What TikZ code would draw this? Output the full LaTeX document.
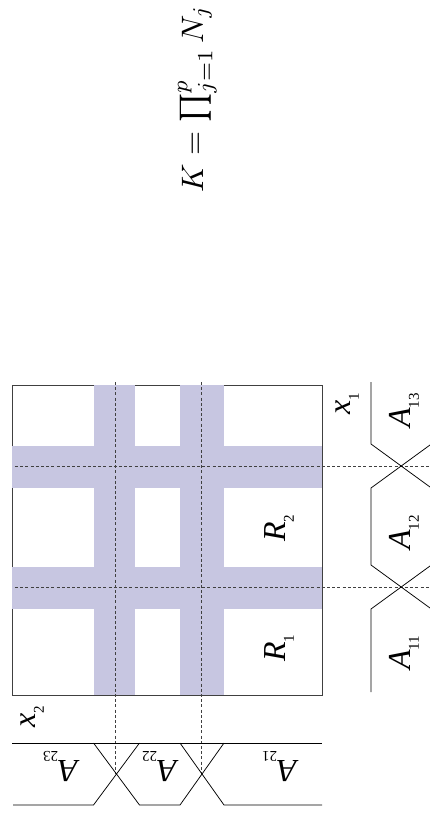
\documentclass[tikz,border=0pt]{standalone}
\usepackage{fontspec}
\setmainfont{Liberation Serif}
\definecolor{bandc}{RGB}{199,198,225}
\newcommand{\lblsub}[2]{\textit{#1}\raisebox{-0.28em}{\fontsize{15}{16}\selectfont #2}}
\begin{document}
\begin{tikzpicture}[x=1pt,y=-1pt,
  band/.style={fill=bandc, draw=none},
  frame/.style={draw=black!75, line width=0.7pt},
  gridline/.style={draw=black!75, line width=0.7pt, dash pattern=on 3pt off 2.2pt},
  mf/.style={draw=black, line width=0.75pt},
  lab/.style={inner sep=0pt, font=\fontsize{32}{38}\selectfont},
  formula/.style={inner sep=0pt, font=\fontsize{10}{12}\selectfont, scale=3.1, transform shape},
]
\useasboundingbox (0,0) rectangle (430,823);
\fill[white] (0,0) rectangle (430,823);

% formula
\node[formula, rotate=90, anchor=base west] (K) at (203,193) {$K = \prod_{j=1}^{p} N_j$};

% square and shaded bands
\draw[frame] (12,385) rectangle (322,695);
\fill[band] (94,385) rectangle (135,695);
\fill[band] (180,385) rectangle (224,695);
\fill[band] (12,446) rectangle (322,488);
\fill[band] (12,567) rectangle (322,609);

% dashed grid lines
\draw[gridline] (115.5,382) -- (115.5,774);
\draw[gridline] (201.5,382) -- (201.5,774);
\draw[gridline] (15,466) -- (430,466);
\draw[gridline] (15,587) -- (430,587);

% bottom membership functions (x2)
\draw[mf] (12,743) -- (322,743);
\draw[mf] (13,805) -- (93.5,805) -- (139.5,743);
\draw[mf] (93.5,743) -- (139.5,805) -- (180,805) -- (224,743);
\draw[mf] (180,743) -- (224,805) -- (322,805);

% right membership functions (x1)
\draw[mf] (371,382) -- (371,444) -- (430,487);
\draw[mf] (430,445) -- (371,488) -- (371,565) -- (430,608);
\draw[mf] (430,566) -- (371,609) -- (371,692);

% labels
\node[lab, rotate=90, anchor=base west] (R1) at (285,662) {\lblsub{R}{1}};
\node[lab, rotate=90, anchor=base west] (R2) at (285,542) {\lblsub{R}{2}};
\node[lab, rotate=90, anchor=base west] (X1) at (350,415) {\lblsub{x}{1}};
\node[lab, rotate=90, anchor=base west] (X2) at (35,728) {\lblsub{x}{2}};
\node[lab, rotate=90, anchor=base west] (A11) at (410,670) {\lblsub{A}{11}};
\node[lab, rotate=90, anchor=base west] (A12) at (410,550) {\lblsub{A}{12}};
\node[lab, rotate=90, anchor=base west] (A13) at (410,428) {\lblsub{A}{13}};
\node[lab, rotate=180, anchor=base west] (A23) at (78,760) {\lblsub{A}{23}};
\node[lab, rotate=180, anchor=base west] (A22) at (177,760) {\lblsub{A}{22}};
\node[lab, rotate=180, anchor=base west] (A21) at (297,760) {\lblsub{A}{21}};
\end{tikzpicture}
\end{document}
